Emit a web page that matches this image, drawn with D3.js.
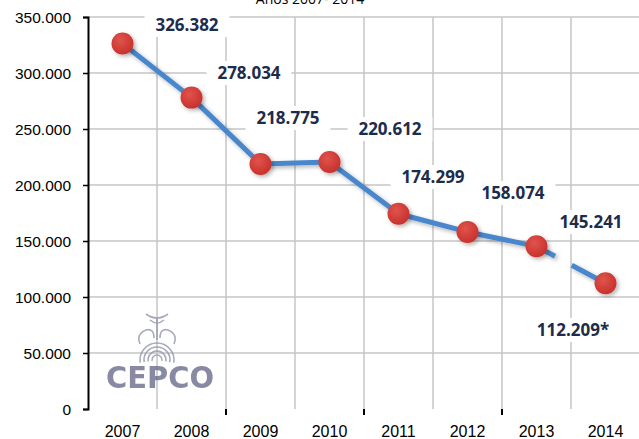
<!DOCTYPE html>
<html>
<head>
<meta charset="utf-8">
<script src="https://cdn.jsdelivr.net/npm/d3@7"></script>
<style>
  body { margin: 0; background: #fff; }
  svg { display: block; font-family: "Open Sans", "Liberation Sans", sans-serif; }
</style>
</head>
<body>
<div id="chart"></div>
<script>
const years = ["2007", "2008", "2009", "2010", "2011", "2012", "2013", "2014"];
const values = [326382, 278034, 218775, 220612, 174299, 158074, 145241, 112209];
const labels = ["326.382", "278.034", "218.775", "220.612", "174.299", "158.074", "145.241", "112.209*"];
const yTicks = [0, 50000, 100000, 150000, 200000, 250000, 300000, 350000];

const width = 639;
const height = 439;
const margin = { top: 17, right: -1, bottom: 30, left: 88 };

const svg = d3.select("#chart").append("svg").attr("width", width).attr("height", height);

const x = d3.scaleBand().domain(years).range([margin.left, width - margin.right]).padding(0);
const y = d3.scaleLinear().domain([0, 350000]).range([height - margin.bottom, margin.top]);

const fmt = (v) => d3.format(",")(v).replace(/,/g, ".");

const defs = svg.append("defs");
const shadow = defs.append("filter").attr("id", "shadow").attr("x", "-50%").attr("y", "-50%").attr("width", "200%").attr("height", "200%");
shadow.append("feDropShadow").attr("dx", 2).attr("dy", 2).attr("stdDeviation", 2).attr("flood-color", "#000").attr("flood-opacity", 0.3);
const grad = defs.append("radialGradient").attr("id", "dot").attr("cx", "40%").attr("cy", "35%").attr("r", "65%");
grad.append("stop").attr("offset", "0%").attr("stop-color", "#e0544d");
grad.append("stop").attr("offset", "100%").attr("stop-color", "#c8312c");

// title, cut off at the top as in the source image
svg.append("text")
  .attr("x", 310).attr("y", 4)
  .attr("text-anchor", "middle")
  .attr("font-size", 14).attr("fill", "#000")
  .text("Años 2007- 2014");

// grid
svg.append("g")
  .selectAll("line")
  .data(yTicks.slice(1))
  .join("line")
  .attr("x1", margin.left).attr("x2", width)
  .attr("y1", (d) => y(d)).attr("y2", (d) => y(d))
  .attr("stroke", "#c6c6c6").attr("stroke-width", 1.5);

svg.append("g")
  .selectAll("line")
  .data(years.slice(1))
  .join("line")
  .attr("x1", (d) => x(d)).attr("x2", (d) => x(d))
  .attr("y1", y(350000)).attr("y2", y(0))
  .attr("stroke", "#c6c6c6").attr("stroke-width", 1.5);

// CEPCO logo (watermark)
const logo = svg.append("g").attr("fill", "none").attr("stroke", "#8d8ea6").attr("stroke-width", 1.6).attr("opacity", 0.75);
[5, 9, 13, 17].forEach((r) => {
  logo.append("path")
    .attr("d", d3.arc()({ innerRadius: r, outerRadius: r, startAngle: -Math.PI * 0.55, endAngle: Math.PI * 0.55 }))
    .attr("transform", "translate(157,360)");
});
logo.append("path").attr("d", "M140,344 q-4,-10 6,-14 q8,-2 8,8 M174,344 q4,-10 -6,-14 q-8,-2 -8,8 M157,340 v-22 M150,320 q7,6 14,0 M146,314 q11,8 22,0");
svg.append("text")
  .attr("x", 106).attr("y", 388)
  .attr("textLength", 108).attr("lengthAdjust", "spacingAndGlyphs")
  .attr("font-family", "DejaVu Sans, sans-serif")
  .attr("font-weight", "bold").attr("font-size", 31)
  .attr("fill", "#6b6d8e").attr("opacity", 0.8)
  .text("CEPCO");

// axes
const yAxis = svg.append("g")
  .attr("transform", `translate(${margin.left},0)`)
  .call(d3.axisLeft(y).tickValues(yTicks).tickFormat(fmt).tickSize(5).tickPadding(12));
yAxis.select(".domain").attr("stroke", "#000").attr("stroke-width", 2);
yAxis.selectAll(".tick line").attr("stroke", "#000").attr("stroke-width", 1.5);
yAxis.selectAll("text").attr("font-size", 15.5).attr("fill", "#000").attr("dy", "0.35em");

svg.append("line")
  .attr("x1", margin.left - 4).attr("x2", width)
  .attr("y1", y(0)).attr("y2", y(0))
  .attr("stroke", "#000").attr("stroke-width", 2.5)
  .attr("filter", "url(#shadow)");

const xAxis = svg.append("g")
  .attr("transform", `translate(0,${y(0)})`)
  .call(d3.axisBottom(x).tickSize(0).tickPadding(17));
xAxis.select(".domain").remove();
xAxis.selectAll("text").attr("font-size", 16).attr("fill", "#000");
svg.append("g")
  .selectAll("line")
  .data(["2009", "2011", "2013"])
  .join("line")
  .attr("x1", (d) => x(d)).attr("x2", (d) => x(d))
  .attr("y1", y(0)).attr("y2", y(0) + 6)
  .attr("stroke", "#000").attr("stroke-width", 2);

// line
const pts = years.map((yr, i) => [x(yr) + x.bandwidth() / 2, y(values[i])]);
const line = d3.line();
svg.append("path")
  .attr("d", line(pts.slice(0, 7)))
  .attr("fill", "none").attr("stroke", "#4a87cc").attr("stroke-width", 5)
  .attr("stroke-linejoin", "round")
  .attr("filter", "url(#shadow)");
svg.append("path")
  .attr("d", line(pts.slice(6)))
  .attr("fill", "none").attr("stroke", "#4a87cc").attr("stroke-width", 5)
  .attr("stroke-dasharray", "21,19,60")
  .attr("filter", "url(#shadow)");

// markers
svg.append("g")
  .selectAll("circle")
  .data(pts)
  .join("circle")
  .attr("cx", (d) => d[0]).attr("cy", (d) => d[1])
  .attr("r", 11)
  .attr("fill", "url(#dot)")
  .attr("filter", "url(#shadow)");

// data labels
const labelPos = [[187, 25], [249, 73], [288, 118], [390, 129], [433, 177], [513, 193], [591, 222], [573, 330]];
const lab = svg.append("g")
  .selectAll("g")
  .data(labels)
  .join("g")
  .attr("transform", (d, i) => `translate(${labelPos[i][0]},${labelPos[i][1]})`);
lab.append("rect")
  .attr("x", (d) => -d.length * 5.2 - 6).attr("y", -12)
  .attr("width", (d) => d.length * 10.4 + 12).attr("height", 24)
  .attr("fill", "#fff");
lab.append("text")
  .attr("text-anchor", "middle").attr("dy", "0.36em")
  .attr("font-size", 17).attr("font-weight", "bold")
  .attr("fill", "#1c2c4c")
  .text((d) => d);
</script>
</body>
</html>
